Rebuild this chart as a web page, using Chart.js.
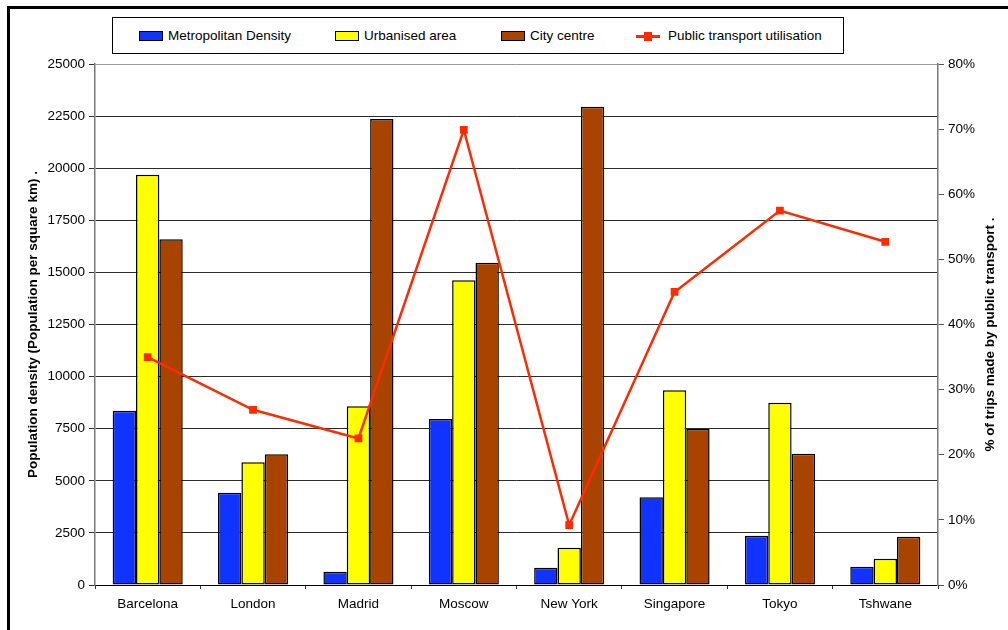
<!DOCTYPE html>
<html>
<head>
<meta charset="utf-8">
<script src="https://cdn.jsdelivr.net/npm/chart.js@4/dist/chart.umd.min.js"></script>
<style>
  html, body { margin: 0; padding: 0; background: #fff; }
  #wrap { position: relative; width: 1008px; height: 630px; overflow: hidden; font-family: "Liberation Sans", Arial, sans-serif; }
  #chart { position: absolute; left: 0; top: 0; }
  .frame-top { position: absolute; left: 7px; top: 6px; width: 1001px; height: 3px; background: #000; }
  .frame-left { position: absolute; left: 7px; top: 6px; width: 3px; height: 624px; background: #000; }
  #legend { position: absolute; left: 112px; top: 17px; width: 730px; height: 35px; border: 1px solid #000; background: #fff; }
  .item { position: absolute; top: 0; height: 35px; display: flex; align-items: center; font-size: 13.5px; color: #000; white-space: nowrap; }
  .swatch { width: 22px; height: 8px; border: 1px solid #000; margin-right: 5px; }
  .lineKey { position: relative; width: 24px; height: 8px; margin-right: 8px; }
  .lineKey::before { content: ""; position: absolute; left: 0; right: 0; top: 3px; height: 3px; background: #FF2A00; }
  .lineKey::after { content: ""; position: absolute; left: 8px; top: 0; width: 8px; height: 9px; background: #FF2A00; }
</style>
</head>
<body>
<div id="wrap">
  <canvas id="chart" width="1008" height="630"></canvas>
  <div class="frame-top"></div>
  <div class="frame-left"></div>
  <div id="legend"></div>
</div>
<script>
// Cities compared
const cities = ['Barcelona', 'London', 'Madrid', 'Moscow', 'New York', 'Singapore', 'Tokyo', 'Tshwane'];

// Population per square km
const metropolitanDensity = [8360, 4430, 640, 7965, 830, 4210, 2365, 880];
const urbanisedArea       = [19690, 5890, 8575, 14620, 1790, 9340, 8750, 1260];
const cityCentre          = [16590, 6270, 22360, 15465, 22950, 7490, 6300, 2320];

// Share of trips made by public transport (%)
const publicTransport = [35.0, 26.9, 22.5, 69.9, 9.2, 45.0, 57.5, 52.7];

// Axis ranges
const densityMax = 25000, densityStep = 2500;
const shareMax = 80, shareStep = 10;

const seriesNames = ['Metropolitan Density', 'Urbanised area', 'City centre', 'Public transport utilisation'];
const axisTitles = ['Population density (Population per square km) .', '% of trips made by public transport .'];
const colours = { metro: '#1033FF', urban: '#FFFF00', centre: '#A84400', transport: '#FF2A00' };

const FONT = '"Liberation Sans", Arial, sans-serif';
const TITLE_SIZE = 13.5;

// Legend (HTML, inside a bordered box)
const legendItems = [
  { name: seriesNames[0], colour: colours.metro, x: 26 },
  { name: seriesNames[1], colour: colours.urban, x: 222 },
  { name: seriesNames[2], colour: colours.centre, x: 388 },
  { name: seriesNames[3], colour: colours.transport, x: 523, line: true }
];
const legend = document.getElementById('legend');
legendItems.forEach(it => {
  const el = document.createElement('div');
  el.className = 'item';
  el.style.left = it.x + 'px';
  const key = document.createElement('span');
  if (it.line) { key.className = 'lineKey'; }
  else { key.className = 'swatch'; key.style.background = it.colour; }
  el.appendChild(key);
  el.appendChild(document.createTextNode(it.name));
  legend.appendChild(el);
});

// Right-hand axis title, written bottom-to-top like the left one
const rightTitle = {
  id: 'rightTitle',
  afterDraw(chart) {
    const s = chart.scales.yShare;
    const ctx = chart.ctx;
    ctx.save();
    ctx.translate(s.right - 18, (chart.chartArea.top + chart.chartArea.bottom) / 2 + 10);
    ctx.rotate(-Math.PI / 2);
    ctx.font = 'bold ' + TITLE_SIZE + 'px ' + FONT;
    ctx.fillStyle = '#000';
    ctx.textAlign = 'center';
    ctx.textBaseline = 'middle';
    ctx.fillText(axisTitles[1], 0, 0);
    ctx.restore();
  }
};

new Chart(document.getElementById('chart'), {
  data: {
    labels: cities,
    datasets: [
      {
        type: 'line', label: seriesNames[3], data: publicTransport, yAxisID: 'yShare', order: 0,
        borderColor: colours.transport, backgroundColor: colours.transport, borderWidth: 2.5,
        pointStyle: 'rect', pointRadius: 5.5, pointBorderWidth: 0, tension: 0
      },
      { type: 'bar', label: seriesNames[0], data: metropolitanDensity, yAxisID: 'y', order: 1,
        backgroundColor: colours.metro, borderColor: '#000', borderWidth: 1.5, borderSkipped: false },
      { type: 'bar', label: seriesNames[1], data: urbanisedArea, yAxisID: 'y', order: 1,
        backgroundColor: colours.urban, borderColor: '#000', borderWidth: 1.5, borderSkipped: false },
      { type: 'bar', label: seriesNames[2], data: cityCentre, yAxisID: 'y', order: 1,
        backgroundColor: colours.centre, borderColor: '#000', borderWidth: 1.5, borderSkipped: false }
    ]
  },
  options: {
    responsive: false,
    animation: false,
    devicePixelRatio: 1,
    layout: { padding: { top: 64, left: 0, right: 0, bottom: 0 } },
    datasets: { bar: { categoryPercentage: 0.665, barPercentage: 1 } },
    plugins: { legend: { display: false }, tooltip: { enabled: false } },
    scales: {
      x: {
        offset: true,
        grid: { offset: true, drawOnChartArea: false, drawTicks: true, tickLength: 4, tickColor: '#333' },
        border: { color: '#000', width: 1 },
        ticks: { color: '#000', font: { family: FONT, size: 13.5 }, padding: 7, maxRotation: 0 },
        afterFit: s => { s.height = 45; }
      },
      y: {
        position: 'left', min: 0, max: densityMax,
        ticks: { stepSize: densityStep, color: '#000', font: { family: FONT, size: 13.5 }, padding: 4,
                 callback: v => String(v) },
        grid: {
          color: ctx => (ctx.tick && ctx.tick.value === densityMax) ? '#9a9a9a' : '#2a2a2a',
          lineWidth: 1, tickLength: 6, tickColor: '#333'
        },
        border: { color: '#7a7a7a', width: 1.5 },
        title: { display: true, text: axisTitles[0], color: '#000',
                 font: { family: FONT, size: TITLE_SIZE, weight: 'bold' }, padding: { top: 25, bottom: 0 } },
        afterFit: s => { s.width = 95; }
      },
      yShare: {
        position: 'right', min: 0, max: shareMax,
        ticks: { stepSize: shareStep, color: '#000', font: { family: FONT, size: 13.5 }, padding: 4,
                 callback: v => v + '%' },
        grid: { drawOnChartArea: false, tickLength: 6, tickColor: '#555' },
        border: { color: '#7a7a7a', width: 1.5 },
        afterFit: s => { s.width = 70; }
      }
    }
  },
  plugins: [rightTitle]
});
</script>
</body>
</html>
